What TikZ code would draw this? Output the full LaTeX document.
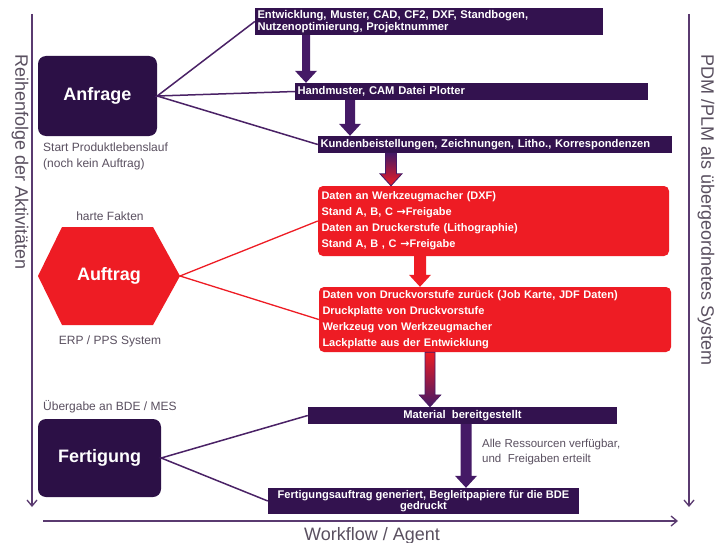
\documentclass[tikz,border=0pt]{standalone}
\usepackage{fontspec}
\setmainfont{Liberation Sans}
\newfontfamily\arrowfont{DejaVu Sans}
\usetikzlibrary{arrows.meta,calc}
\definecolor{boxc}{HTML}{2C1046}
\definecolor{barc}{HTML}{33124F}
\definecolor{linec}{HTML}{4A2266}
\definecolor{arrc}{HTML}{451A66}
\definecolor{redc}{HTML}{EE1C24}
\definecolor{grayc}{HTML}{5A5060}
\definecolor{axisc}{HTML}{5A3A70}
\newcommand\blockarr[4]{\path[#4] ($(#1)+(-#3,0)$) -- ($(#2)+(-#3,-12)$) -- ($(#2)+(-11,-12)$) -- (#2) -- ($(#2)+(11,-12)$) -- ($(#2)+(#3,-12)$) -- ($(#1)+(#3,0)$) -- cycle;}
\newcommand\rarr{{\arrowfont\bfseries →}}
\begin{document}
\begin{tikzpicture}[x=1pt,y=-1pt,
  bar/.style={fill=barc, text=white, font=\bfseries\fontsize{11.2}{12.5}\selectfont, inner xsep=2.5pt, inner ysep=0pt, align=left},
  redbox/.style={fill=redc, rounded corners=5pt, text=white, font=\bfseries\fontsize{11}{16}\selectfont, inner xsep=3.5pt, inner ysep=0pt, align=left},
  bigbox/.style={fill=boxc, rounded corners=8pt, text=white, font=\bfseries\fontsize{18}{20}\selectfont},
  note/.style={text=grayc, font=\fontsize{12}{16}\selectfont, inner sep=0pt},
  axis/.style={text=grayc, font=\fontsize{18}{20}\selectfont, inner sep=0pt},
  axline/.style={draw=axisc, line width=1.3pt},
  conn/.style={draw=linec, line width=1.5pt},
  rconn/.style={draw=redc, line width=1.3pt}]
\useasboundingbox[fill=white] (0,0) rectangle (715,543);

% axes
\coordinate (lt) at (32,14); \coordinate (lb) at (32,507);
\coordinate (rt) at (689,14); \coordinate (rb) at (689,507);
\coordinate (bl) at (43,521); \coordinate (br) at (678,521);
\draw[axline,-{Straight Barb[length=6pt,width=10pt]}] (lt) -- (lb);
\draw[axline,-{Straight Barb[length=6pt,width=10pt]}] (rt) -- (rb);
\draw[axline,-{Straight Barb[length=6pt,width=10pt]}] (bl) -- (br);
\node[axis, rotate=-90] (lefttxt) at (20,162) {Reihenfolge der Aktivitäten};
\node[axis, rotate=-90] (righttxt) at (706,210) {PDM /PLM als übergeordnetes System};
\node[axis, anchor=base] (bottxt) at (372,540) {Workflow / Agent};

% right boxes
\node[bar, minimum width=348pt, minimum height=27pt, text width=343pt] (b1) at (429,21.5) {Entwicklung, Muster, CAD, CF2, DXF, Standbogen,\\Nutzenoptimierung, Projektnummer};
\node[bar, minimum width=353pt, minimum height=17pt, text width=348pt] (b2) at (471.5,91.5) {Handmuster, CAM Datei Plotter};
\node[bar, minimum width=354pt, minimum height=17pt, text width=349pt] (b3) at (495,144.5) {Kundenbeistellungen, Zeichnungen, Litho., Korrespondenzen};
\node[redbox, minimum width=351pt, minimum height=70pt, text width=344pt] (r1) at (493.5,221) {Daten an Werkzeugmacher (DXF)\\Stand A, B, C \rarr Freigabe\\Daten an Druckerstufe (Lithographie)\\Stand A, B , C \rarr Freigabe};
\node[redbox, minimum width=352pt, minimum height=65pt, text width=345pt] (r2) at (495,319.5) {Daten von Druckvorstufe zurück (Job Karte, JDF Daten)\\Druckplatte von Druckvorstufe\\Werkzeug von Werkzeugmacher\\Lackplatte aus der Entwicklung};
\node[bar, minimum width=309pt, minimum height=17pt, align=center] (m) at (462.5,415.5) {Material~~bereitgestellt};
\node[bar, minimum width=311pt, minimum height=26pt, align=center, font=\bfseries\fontsize{11.1}{11.5}\selectfont] (f) at (423.5,501) {Fertigungsauftrag generiert, Begleitpapiere für die BDE\\gedruckt};

% left blocks
\node[bigbox, minimum width=119pt, minimum height=80pt] (anfrage) at (97.5,96) {Anfrage};
\node[bigbox, minimum width=123pt, minimum height=78pt] (fertigung) at (99.5,458) {Fertigung};
\fill[redc] (38,276) -- (62,227) -- (153,227) -- (180,276) -- (153,325) -- (62,325) -- cycle;
\node[text=white, font=\bfseries\fontsize{18}{20}\selectfont] (auftrag) at (109,276) {Auftrag};
\coordinate (auftragR) at (180,276);

% notes
\node[note, anchor=west, align=left] (n1) at (43,156) {Start Produktlebenslauf\\(noch kein Auftrag)};
\node[note] (n2) at (110,216) {harte Fakten};
\node[note] (n3) at (110,341) {ERP / PPS System};
\node[note, anchor=west] (n4) at (43,407) {Übergabe an BDE / MES};
\node[note, anchor=west, align=left, font=\fontsize{11.5}{15}\selectfont] (n5) at (482,452) {Alle Ressourcen verfügbar,\\und~~Freigaben erteilt};

% connectors
\draw[conn] (b1.west) -- (anfrage.east) -- (b2.west);
\draw[conn] (anfrage.east) -- (b3.west);
\draw[rconn] (r1.west) -- (auftragR) -- (r2.west);
\draw[conn] (m.west) -- (fertigung.east) -- (f.west);

% block arrows
\coordinate (a1t) at (306,0 |- b1.south); \coordinate (a1h) at (306,0 |- b2.north);
\coordinate (a2t) at (350,0 |- b2.south); \coordinate (a2h) at (350,0 |- b3.north);
\coordinate (a3t) at (391,0 |- b3.south); \coordinate (a3h) at (391,0 |- r1.north);
\coordinate (a4t) at (420,0 |- r1.south); \coordinate (a4h) at (420,0 |- r2.north);
\coordinate (a5t) at (430,0 |- r2.south); \coordinate (a5h) at (430,0 |- m.north);
\coordinate (a6t) at (466,0 |- m.south); \coordinate (a6h) at (466,0 |- f.north);
\blockarr{a1t}{a1h}{4}{fill=arrc}
\blockarr{a2t}{a2h}{5}{fill=arrc}
\blockarr{a3t}{a3h}{5.5}{draw=arrc, line width=0.8pt, top color=arrc, bottom color=redc}
\blockarr{a4t}{a4h}{6}{fill=redc}
\blockarr{a5t}{a5h}{5}{draw=arrc, line width=0.6pt, top color=redc, bottom color=arrc}
\blockarr{a6t}{a6h}{5.5}{fill=arrc}
\end{tikzpicture}
\end{document}
